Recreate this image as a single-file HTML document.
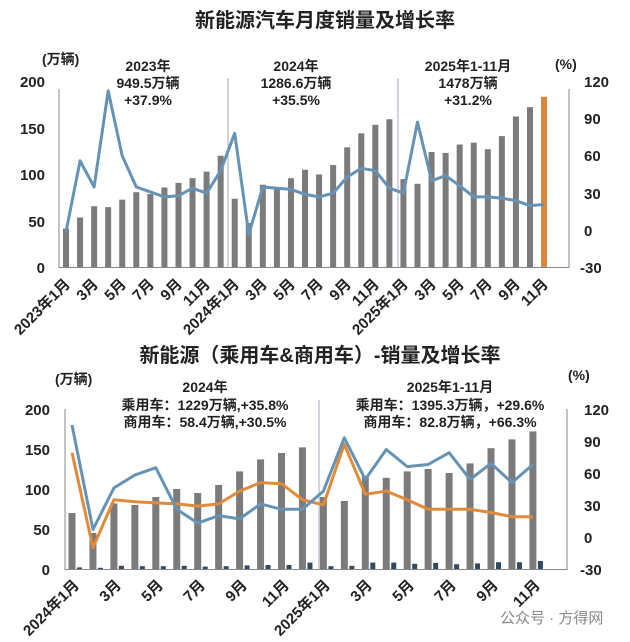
<!DOCTYPE html>
<html><head><meta charset="utf-8"><style>
html,body{margin:0;padding:0;background:#fff;}
svg{display:block;font-family:"Liberation Sans","Noto Sans CJK SC",sans-serif;}
.t{font-size:15px;font-weight:bold;fill:#222;}
.a{font-size:14px;font-weight:bold;fill:#222;}
.h{font-size:20px;font-weight:bold;fill:#222;}
</style></head><body>
<svg id="s" width="630" height="642" viewBox="0 0 630 642">
<rect width="630" height="642" fill="#fff"/>
<text class="h" x="325" y="27" text-anchor="middle">新能源汽车月度销量及增长率</text>
<text class="a" x="42" y="64">(万辆)</text>
<text class="a" x="555" y="69">(%)</text>
<g class="a" text-anchor="middle">
<text x="148" y="71">2023年</text><text x="148" y="88">949.5万辆</text><text x="148" y="105">+37.9%</text>
<text x="296" y="71">2024年</text><text x="296" y="88">1286.6万辆</text><text x="296" y="105">+35.5%</text>
<text x="468" y="71">2025年1-11月</text><text x="468" y="88">1478万辆</text><text x="468" y="105">+31.2%</text>
</g>
<g class="t" text-anchor="end">
<text x="45" y="87">200</text><text x="45" y="134">150</text><text x="45" y="180">100</text><text x="45" y="227">50</text><text x="45" y="273">0</text>
</g>
<g class="t" text-anchor="start">
<text x="584" y="87">120</text><text x="584" y="124">90</text><text x="584" y="161">60</text><text x="584" y="199">30</text><text x="584" y="236">0</text><text x="580" y="273">-30</text>
</g>
<line x1="59" y1="89" x2="59" y2="268" stroke="#888"/>
<line x1="569" y1="89" x2="569" y2="268" stroke="#888"/>
<line x1="59" y1="267.5" x2="569" y2="267.5" stroke="#888"/>
<line x1="228" y1="78" x2="228" y2="268" stroke="#aab"/>
<line x1="398" y1="78" x2="398" y2="268" stroke="#aab"/>
<g id="gtop"></g>
<g class="t" text-anchor="end">
<text transform="translate(71,285) rotate(-45)">2023年1月</text>
<text transform="translate(99,285) rotate(-45)">3月</text>
<text transform="translate(127,285) rotate(-45)">5月</text>
<text transform="translate(155,285) rotate(-45)">7月</text>
<text transform="translate(183,285) rotate(-45)">9月</text>
<text transform="translate(211,285) rotate(-45)">11月</text>
<text transform="translate(240,285) rotate(-45)">2024年1月</text>
<text transform="translate(268,285) rotate(-45)">3月</text>
<text transform="translate(296,285) rotate(-45)">5月</text>
<text transform="translate(324,285) rotate(-45)">7月</text>
<text transform="translate(352,285) rotate(-45)">9月</text>
<text transform="translate(380,285) rotate(-45)">11月</text>
<text transform="translate(409,285) rotate(-45)">2025年1月</text>
<text transform="translate(437,285) rotate(-45)">3月</text>
<text transform="translate(465,285) rotate(-45)">5月</text>
<text transform="translate(493,285) rotate(-45)">7月</text>
<text transform="translate(521,285) rotate(-45)">9月</text>
<text transform="translate(549,285) rotate(-45)">11月</text>
</g>

<text class="h" x="320" y="362" text-anchor="middle">新能源（乘用车&amp;商用车）-销量及增长率</text>
<text class="a" x="55" y="384">(万辆)</text>
<text class="a" x="568" y="380">(%)</text>
<g class="a" text-anchor="middle">
<text x="205" y="392">2024年</text><text x="205" y="410">乘用车：1229万辆,+35.8%</text><text x="205" y="427">商用车：58.4万辆,+30.5%</text>
<text x="450" y="392">2025年1-11月</text><text x="450" y="410">乘用车：1395.3万辆，+29.6%</text><text x="450" y="427">商用车：82.8万辆，+66.3%</text>
</g>
<g class="t" text-anchor="end">
<text x="50" y="415">200</text><text x="50" y="455">150</text><text x="50" y="495">100</text><text x="50" y="535">50</text><text x="50" y="575">0</text>
</g>
<g class="t" text-anchor="start">
<text x="584" y="415">120</text><text x="584" y="447">90</text><text x="584" y="479">60</text><text x="584" y="511">30</text><text x="584" y="543">0</text><text x="580" y="575">-30</text>
</g>
<line x1="65" y1="409" x2="65" y2="570" stroke="#888"/>
<line x1="567" y1="409" x2="567" y2="570" stroke="#888"/>
<line x1="65" y1="569.5" x2="567" y2="569.5" stroke="#888"/>
<line x1="319" y1="400" x2="319" y2="570" stroke="#aab"/>
<g id="gbot"></g>
<g class="t" text-anchor="end">
<text transform="translate(80,586) rotate(-45)">2024年1月</text>
<text transform="translate(122,586) rotate(-45)">3月</text>
<text transform="translate(164,586) rotate(-45)">5月</text>
<text transform="translate(206,586) rotate(-45)">7月</text>
<text transform="translate(248,586) rotate(-45)">9月</text>
<text transform="translate(290,586) rotate(-45)">11月</text>
<text transform="translate(331,586) rotate(-45)">2025年1月</text>
<text transform="translate(373,586) rotate(-45)">3月</text>
<text transform="translate(415,586) rotate(-45)">5月</text>
<text transform="translate(457,586) rotate(-45)">7月</text>
<text transform="translate(499,586) rotate(-45)">9月</text>
<text transform="translate(541,586) rotate(-45)">11月</text>
</g>
<text x="500" y="623" font-size="15" fill="#888">公众号 · 方得网</text>
</svg>
<script>
(function(){
var NS="http://www.w3.org/2000/svg";
function el(p,n,a){var e=document.createElementNS(NS,n);for(var k in a)e.setAttribute(k,a[k]);p.appendChild(e);return e;}
var gt=document.getElementById("gtop");
var tb=[41,53,65,64,72,80,78,85,90,95,102,119,73,47,88,85,95,104,99,109,128,143,152,158,94,89,123,122,131,133,126,140,161,171,182];
var tl=[-1,56,35,112,60,35,31,27,28,34,30,48,78,-3,35,34,33,29,27,30,43,50,48,34,30,87,40,44,36,27,27,26,24,20,21];
var pts=[];
tb.forEach(function(v,i){var x=66+14.06*i,h=v*0.935;el(gt,"rect",{x:x-3,y:267-h,width:6,height:h,fill:i==34?"#d9873f":"#7b7b7b"});pts.push(x.toFixed(1)+","+(230.6-tl[i]*1.247).toFixed(1));});
el(gt,"polyline",{points:pts.join(" "),fill:"none",stroke:"#6693b4","stroke-width":3,"stroke-linejoin":"round"});
var gb=document.getElementById("gbot");
var bb=[70,45,82,80,90,100,95,105,122,137,145,152,90,85,116,114,122,125,120,132,151,162,172];
var bs=[2,1.5,4,3.5,3.5,4,3,3.5,4.5,5,5,8,3.5,4,8,8,6.5,7.5,6,7,8.5,8.5,10];
var bl=[105,7,46,58,65,26,13,20,17,31,26,26,43,93,54,82,66,68,79,54,69,51,68];
var ol=[79,-10,35,33,32,31,29,31,43,51,50,35,30,87,40,43,35,26,26,26,23,19,19];
var p1=[],p2=[];
bb.forEach(function(v,i){var x=72+20.95*i;el(gb,"rect",{x:x-3.5,y:569-v*0.8,width:7,height:v*0.8,fill:"#7b7b7b"});el(gb,"rect",{x:x+5,y:569-bs[i]*0.8,width:5,height:bs[i]*0.8,fill:"#2f4b63"});
p1.push(x.toFixed(1)+","+(569-(bl[i]+30)*1.0667).toFixed(1));p2.push(x.toFixed(1)+","+(569-(ol[i]+30)*1.0667).toFixed(1));});
el(gb,"polyline",{points:p2.join(" "),fill:"none",stroke:"#e08a3a","stroke-width":3,"stroke-linejoin":"round"});
el(gb,"polyline",{points:p1.join(" "),fill:"none",stroke:"#6693b4","stroke-width":3,"stroke-linejoin":"round"});
})();
</script>
</body></html>
